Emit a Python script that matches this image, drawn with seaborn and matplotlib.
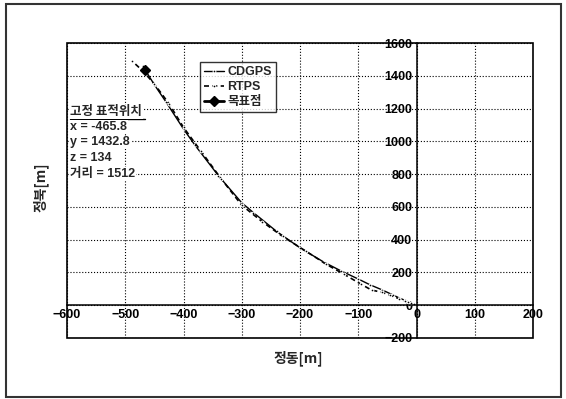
import numpy as np
import pandas as pd
import matplotlib.pyplot as plt
import seaborn as sns
from matplotlib.patches import Rectangle
from matplotlib.lines import Line2D

# trajectories (east, north) in metres
cdgps_x = [0, -5, -10, -15, -20, -30, -40, -60, -80, -100, -130, -160, -200, -240, -280, -300, -340, -380, -400, -430, -450, -470]
cdgps_y = [0, 8, 15, 22, 30, 45, 62, 95, 125, 160, 210, 265, 350, 450, 565, 625, 790, 975, 1075, 1240, 1345, 1460]
rtps_x = [0, -5, -10, -15, -20, -30, -45, -60, -77, -95, -125, -155, -190, -230, -265, -300, -335, -370, -400, -425, -450, -470, -488]
rtps_y = [0, 6, 12, 18, 25, 40, 60, 80, 92, 128, 190, 250, 330, 420, 510, 610, 770, 940, 1085, 1230, 1350, 1430, 1489]
target_x = [-465.8]
target_y = [1432.8]

x_ticks = [-600, -500, -400, -300, -200, -100, 0, 100, 200]
y_ticks = [-200, 0, 200, 400, 600, 800, 1000, 1200, 1400, 1600]
info_lines = ["x = -465.8", "y = 1432.8", "z = 134", "거리 = 1512"]

sns.set_style("white")
fam = ['Liberation Sans', 'Noto Sans CJK KR']
plt.rcParams['font.family'] = fam

fig = plt.figure(figsize=(5.66, 3.99), dpi=100)
ax = fig.add_axes([0.1184, 0.1529, 0.8233, 0.7393])

sns.lineplot(x=cdgps_x, y=cdgps_y, sort=False, estimator=None, ax=ax, color='black',
             lw=1.0, marker='.', markersize=4, label='CDGPS')
sns.lineplot(x=rtps_x, y=rtps_y, sort=False, estimator=None, ax=ax, color='black',
             lw=1.2, ls=(0, (3, 2)), marker='.', markersize=4, label='RTPS')
ax.plot(target_x, target_y, color='black', marker='D', markersize=5, lw=2, label='목표점')

ax.set_xlim(-600, 200)
ax.set_ylim(-200, 1600)
ax.set_xticks(x_ticks)
ax.set_yticks(y_ticks)
ax.grid(True, linestyle=':', color='black', lw=0.8)

# axes cross at the origin, frame drawn separately
ax.spines['left'].set_position(('data', 0))
ax.spines['bottom'].set_position(('data', 0))
for s in ['top', 'right']:
    ax.spines[s].set_visible(False)
for s in ['left', 'bottom']:
    ax.spines[s].set_color('black')
    ax.spines[s].set_linewidth(1.1)
ax.add_patch(Rectangle((0, 0), 1, 1, transform=ax.transAxes, fill=False,
                       ec='black', lw=1.2, clip_on=False, zorder=5))
ax.tick_params(axis='both', direction='inout', length=4, width=0.8, labelsize=9,
               colors='black', pad=1)
for lab in ax.get_xticklabels() + ax.get_yticklabels():
    lab.set_fontweight('bold')

ax.set_xlabel('')
ax.set_ylabel('')
fig.text(0.527, 0.103, '정동[m]', ha='center', va='center', fontsize=10, fontweight='bold',
         family=['Noto Sans CJK KR'])
fig.text(0.071, 0.53, '정북[m]', ha='center', va='center', rotation=90, fontsize=10,
         fontweight='bold', family=['Noto Sans CJK KR'])

leg = ax.legend(loc='upper left', bbox_to_anchor=(0.285, 0.935), frameon=True,
                fancybox=False, edgecolor='black', borderpad=0.3, labelspacing=0.25,
                handlelength=1.6, handletextpad=0.3, borderaxespad=0,
                prop={'family': fam, 'size': 9, 'weight': 'bold'})
leg.get_frame().set_linewidth(1.0)

# fixed target note
fig.text(0.124, 1 - 112 / 399, '고정 표적위치', ha='left', va='center', fontsize=9,
         fontweight='bold', family=['Noto Sans CJK KR'],
         bbox=dict(facecolor='white', edgecolor='none', pad=0.5))
fig.add_artist(Line2D([0.124, 0.256], [1 - 119 / 399, 1 - 119 / 399], color='black', lw=1.0))
for i, t in enumerate(info_lines):
    fig.text(0.124, 1 - (127 + 15.5 * i) / 399, t, ha='left', va='center', fontsize=9,
             fontweight='bold', family=fam,
             bbox=dict(facecolor='white', edgecolor='none', pad=0.5))

fig.add_artist(Rectangle((6 / 566, 2 / 399), 555 / 566, 393 / 399, transform=fig.transFigure,
                         fill=False, ec='#333333', lw=1.5))

fig.savefig('out.png', dpi=100)
